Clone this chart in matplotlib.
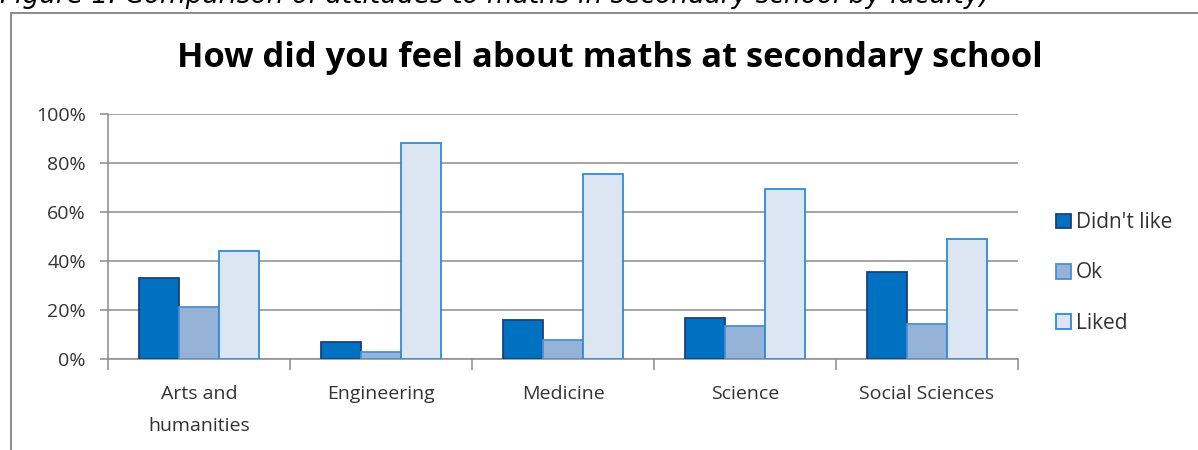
import matplotlib
matplotlib.use("Agg")
import matplotlib.pyplot as plt
import numpy as np
from matplotlib.patches import Patch
from matplotlib.lines import Line2D

## data
faculties = ["Arts and\nhumanities", "Engineering", "Medicine", "Science", "Social Sciences"]
didnt_like = [33.2, 6.9, 15.9, 16.7, 35.4]
ok = [21.1, 3.0, 7.9, 13.6, 14.2]
liked = [44.2, 88.0, 75.6, 69.4, 49.1]
series_names = ["Didn't like", "Ok", "Liked"]
yticks = [0, 20, 40, 60, 80, 100]
caption = "Figure 1: Comparison of attitudes to maths in secondary school by faculty)"
title = "How did you feel about maths at secondary school"

## styles
fills = ["#0070C0", "#95B3D7", "#DCE6F2"]
edges = ["#1F3F7F", "#4A8FD6", "#2E8BD8"]
grid_c = "#8C8C8C"
txt_c = "#333333"
W, H = 1198, 450

fig = plt.figure(figsize=(W / 100, H / 100), dpi=100)
ax = fig.add_axes([108 / W, (H - 359) / H, (1018 - 108) / W, 245 / H])

x = np.arange(len(faculties))
bw = 0.22
for k, vals in enumerate([didnt_like, ok, liked]):
    ax.bar(x + (k - 1) * bw, vals, bw, color=fills[k], edgecolor=edges[k],
           linewidth=1.3, zorder=3, label=series_names[k])

ax.set_xlim(-0.5, len(faculties) - 0.5)
ax.set_ylim(0, 100)
ax.set_yticks(yticks)
ax.set_yticklabels([f"{t}%" for t in yticks])
ax.yaxis.grid(True, color=grid_c, linewidth=1.1, zorder=0)
ax.set_axisbelow(True)

# boundary ticks (major) and centred labels (minor)
ax.set_xticks(np.arange(len(faculties) + 1) - 0.5)
ax.set_xticklabels([])
ax.set_xticks(x, minor=True)
ax.set_xticklabels(faculties, minor=True, fontsize=14, color=txt_c,
                   family="Open Sans", linespacing=2.0)
ax.tick_params(axis="x", which="major", length=8, color=grid_c, width=1.1)
ax.tick_params(axis="x", which="minor", length=0, pad=19)
ax.tick_params(axis="y", length=6, color=grid_c, width=1.1, pad=10)
for lab in ax.get_yticklabels():
    lab.set_family("Open Sans")
    lab.set_fontsize(14)
    lab.set_color(txt_c)

for s in ["top", "right"]:
    ax.spines[s].set_visible(False)
for s in ["left", "bottom"]:
    ax.spines[s].set_color(grid_c)
    ax.spines[s].set_linewidth(1.1)

handles = [Patch(facecolor=fills[k], edgecolor=edges[k], linewidth=1.3) for k in range(3)]
leg = fig.legend(handles, series_names, loc="center left",
                 bbox_to_anchor=(1056 / W, (H - 273) / H), frameon=False,
                 prop={"family": "Open Sans", "size": 15},
                 handlelength=0.7, handleheight=0.7, handletextpad=0.25,
                 labelspacing=1.4, borderaxespad=0, borderpad=0)
for t in leg.get_texts():
    t.set_color(txt_c)

fig.text(610 / W, (H - 58) / H, title, ha="center", va="center",
         family="Open Sans", weight="bold", fontsize=24.8, color="black")

# caption above the chart box, mostly cut off by the top edge
fig.text(0 / W, (H - 3) / H, caption, ha="left", va="baseline",
         family="DejaVu Sans", style="italic", fontsize=19, color="black")

# chart frame
fig.add_artist(Line2D([11 / W, 11 / W], [0, (H - 13) / H], color="#8A8A8A", linewidth=1.4))
fig.add_artist(Line2D([11 / W, 1], [(H - 13) / H, (H - 13) / H], color="#8A8A8A", linewidth=1.4))

fig.savefig("out.png", dpi=100)
